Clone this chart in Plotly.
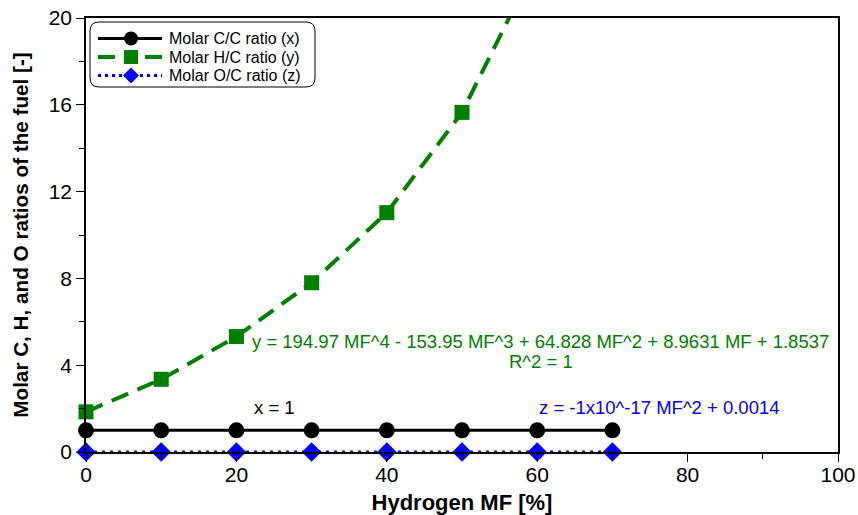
import plotly.graph_objects as go

# Hydrogen mass fraction of the blended fuel [%]
hydrogen_mf = [0, 10, 20, 30, 40, 50, 60, 70]

# Molar ratios normalised to carbon
c_c_ratio = [1, 1, 1, 1, 1, 1, 1, 1]
h_c_ratio = [1.85, 3.35, 5.32, 7.80, 11.03, 15.65, 22.6, 33.9]
o_c_ratio = [0.0014, 0.0014, 0.0014, 0.0014, 0.0014, 0.0014, 0.0014, 0.0014]

series_names = ["Molar C/C ratio (x)", "Molar H/C ratio (y)", "Molar O/C ratio (z)"]

x_ticks = [0, 20, 40, 60, 80, 100]
y_ticks = [0, 4, 8, 12, 16, 20]
Y_MAX = 20

FONT = "Arial, Liberation Sans, sans-serif"
GREEN = "#008000"
BLUE = "#0000FF"

# figure and plot-area geometry in pixels
W, H = 858, 515
ML, MR, MT, MB = 86, 20, 18, 63
PW, PH = W - ML - MR, H - MT - MB


def px_x(px):
    return (px - ML) / PW


def px_y(py):
    return (H - MB - py) / PH


fig = go.Figure()

fig.add_trace(go.Scatter(
    x=hydrogen_mf, y=c_c_ratio, mode="lines+markers",
    name=series_names[0], showlegend=False,
    line=dict(color="black", width=3),
    marker=dict(symbol="circle", size=16, color="black"),
    cliponaxis=False,
))

# points above the visible range are hidden, the curve itself is clipped
h_opacity = [1 if v <= Y_MAX else 0 for v in h_c_ratio]
fig.add_trace(go.Scatter(
    x=hydrogen_mf, y=h_c_ratio, mode="lines+markers",
    name=series_names[1], showlegend=False,
    line=dict(color=GREEN, width=4, dash="18px,10px"),
    marker=dict(symbol="square", size=15, color=GREEN, opacity=h_opacity),
    cliponaxis=False,
))

fig.add_trace(go.Scatter(
    x=hydrogen_mf, y=o_c_ratio, mode="lines+markers",
    name=series_names[2], showlegend=False,
    line=dict(color=BLUE, width=3, dash="3px,5px"),
    marker=dict(symbol="diamond", size=15, color=BLUE),
    cliponaxis=False,
))

annots = [
    dict(x=60.5, y=5.1, text="y = 194.97 MF^4 - 153.95 MF^3 + 64.828 MF^2 + 8.9631 MF + 1.8537",
         color=GREEN),
    dict(x=60.5, y=4.15, text="R^2 = 1", color=GREEN),
    dict(x=25.1, y=2.03, text="x = 1", color="black"),
    dict(x=76.3, y=2.03, text="z = -1x10^-17 MF^2 + 0.0014", color=BLUE),
]
for a in annots:
    fig.add_annotation(x=a["x"], y=a["y"], xref="x", yref="y", text=a["text"],
                       showarrow=False, xanchor="center", yanchor="middle",
                       font=dict(family=FONT, size=18.5, color=a["color"]))

# ---- legend box (rounded frame, keys and labels) ----
bx0, bx1 = px_x(90), px_x(315)
by0, by1 = px_y(87), px_y(22)
rx, ry = 9 / PW, 9 / PH
path = (f"M {bx0 + rx},{by1} L {bx1 - rx},{by1} Q {bx1},{by1} {bx1},{by1 - ry} "
        f"L {bx1},{by0 + ry} Q {bx1},{by0} {bx1 - rx},{by0} L {bx0 + rx},{by0} "
        f"Q {bx0},{by0} {bx0},{by0 + ry} L {bx0},{by1 - ry} Q {bx0},{by1} {bx0 + rx},{by1} Z")
fig.add_shape(type="path", path=path, xref="paper", yref="paper",
              line=dict(color="black", width=1), fillcolor="rgba(0,0,0,0)", layer="above")

key_x0, key_x1, key_c, text_x = 98, 162, 131, 168
row_y = [38.5, 57, 75.5]


def seg(xa, xb, y, color, width, dash="solid"):
    fig.add_shape(type="line", xref="paper", yref="paper",
                  x0=px_x(xa), x1=px_x(xb), y0=px_y(y), y1=px_y(y),
                  line=dict(color=color, width=width, dash=dash), layer="above")


# C/C key: solid line with circle
seg(key_x0, key_x1, row_y[0], "black", 3)
r = 7
fig.add_shape(type="circle", xref="paper", yref="paper",
              x0=px_x(key_c - r), x1=px_x(key_c + r),
              y0=px_y(row_y[0] + r), y1=px_y(row_y[0] - r),
              fillcolor="black", line=dict(color="black", width=0), layer="above")

# H/C key: two dashes with square
seg(key_x0, key_x0 + 17, row_y[1], GREEN, 4)
seg(key_x1 - 17, key_x1, row_y[1], GREEN, 4)
s = 7
fig.add_shape(type="rect", xref="paper", yref="paper",
              x0=px_x(key_c - s), x1=px_x(key_c + s),
              y0=px_y(row_y[1] + s), y1=px_y(row_y[1] - s),
              fillcolor=GREEN, line=dict(color=GREEN, width=0), layer="above")

# O/C key: dotted line with diamond
seg(key_x0, key_x1, row_y[2], BLUE, 3, "3px,4px")
d = 8
yc = row_y[2]
dpath = (f"M {px_x(key_c - d)},{px_y(yc)} L {px_x(key_c)},{px_y(yc - d)} "
         f"L {px_x(key_c + d)},{px_y(yc)} L {px_x(key_c)},{px_y(yc + d)} Z")
fig.add_shape(type="path", path=dpath, xref="paper", yref="paper",
              fillcolor=BLUE, line=dict(color=BLUE, width=0), layer="above")

for name, yy in zip(series_names, row_y):
    fig.add_annotation(x=px_x(text_x), y=px_y(yy), xref="paper", yref="paper",
                       text=name, showarrow=False, xanchor="left", yanchor="middle",
                       borderpad=0, font=dict(family=FONT, size=16, color="black"))

axis_common = dict(
    showgrid=False, zeroline=False, showline=True, linecolor="black", linewidth=1.5,
    mirror=True, ticks="outside", ticklen=8, tickwidth=1.2, tickcolor="black",
    tickfont=dict(family=FONT, size=21, color="black"), automargin=False,
)

fig.update_layout(
    width=W, height=H,
    margin=dict(l=ML, r=MR, t=MT, b=MB),
    paper_bgcolor="white", plot_bgcolor="white",
    font=dict(family=FONT, color="black"),
    showlegend=False,
    xaxis=dict(
        range=[0, 100], tickvals=x_ticks, ticklabelstandoff=-5,
        minor=dict(dtick=10, ticks="outside", ticklen=5, tickcolor="black"),
        title=dict(text="<b>Hydrogen MF [%]</b>", font=dict(family=FONT, size=22), standoff=11),
        **axis_common,
    ),
    yaxis=dict(
        range=[0, Y_MAX], tickvals=y_ticks,
        minor=dict(dtick=2, ticks="outside", ticklen=5, tickcolor="black"),
        title=dict(text="<b>Molar C, H, and O ratios of the fuel [-]</b>",
                   font=dict(family=FONT, size=20.7), standoff=14),
        **axis_common,
    ),
)

fig.write_html("out.html")
